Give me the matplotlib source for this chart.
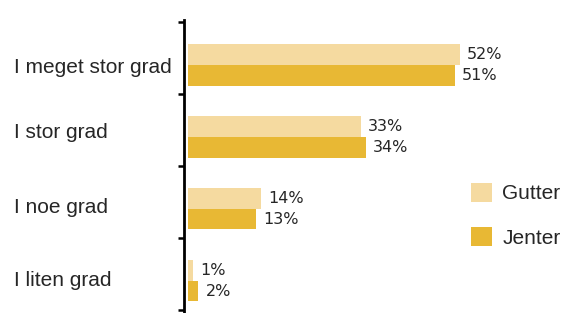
import matplotlib
matplotlib.use("Agg")
import matplotlib.pyplot as plt
import matplotlib.transforms as mtransforms
import numpy as np

categories = ["I meget stor grad", "I stor grad", "I noe grad", "I liten grad"]
gutter = [52, 33, 14, 1]
jenter = [51, 34, 13, 2]
series_names = ["Gutter", "Jenter"]
colors = ["#F5DAA0", "#E8B834"]

plt.rcParams['font.family'] = ['Liberation Sans', 'DejaVu Sans']
text_color = "#262626"

fig = plt.figure(figsize=(5.65, 3.13), dpi=100)
ax = fig.add_axes([184/565, 0.0, 1 - 184/565, 293/313])

y = np.arange(len(categories))
shift = 0.09
h = 0.29
ax.barh(y + shift - h/2, gutter, height=h, color=colors[0], label=series_names[0])
ax.barh(y + shift + h/2, jenter, height=h, color=colors[1], label=series_names[1])

for yi, g, j in zip(y, gutter, jenter):
    ax.text(g + 1.4, yi + shift - h/2, f"{g}%", va="center", ha="left",
            fontsize=11.5, color=text_color, family=["DejaVu Sans"])
    ax.text(j + 1.4, yi + shift + h/2, f"{j}%", va="center", ha="left",
            fontsize=11.5, color=text_color, family=["DejaVu Sans"])

ax.set_xlim(-0.76, 72.1)
ax.set_ylim(3.54, -0.53)

for s in ["top", "right", "bottom"]:
    ax.spines[s].set_visible(False)
ax.spines["left"].set_linewidth(2)
ax.spines["left"].set_color("black")
ax.set_xticks([])

ax.set_yticks(np.arange(-0.5, len(categories), 1.0))
ax.set_yticklabels([])
ax.tick_params(axis="y", which="major", length=4.5, width=1.8, color="black")

# category labels, left aligned, baseline positions
label_baseline = [0.206, 1.109, 2.15, 3.164]
trans = mtransforms.blended_transform_factory(fig.transFigure, ax.transData)
for cat, yb in zip(categories, label_baseline):
    ax.text(14/565, yb, cat, transform=trans, ha="left", va="baseline",
            fontsize=15, color=text_color)

leg = fig.legend(loc="upper left", bbox_to_anchor=(471/565, 1 - 183/313),
                 frameon=False, fontsize=15, handlelength=1.0, handleheight=1.0,
                 handletextpad=0.5, labelspacing=1.15, borderpad=0, borderaxespad=0)
for t in leg.get_texts():
    t.set_color(text_color)

fig.savefig("out.png", dpi=100)
